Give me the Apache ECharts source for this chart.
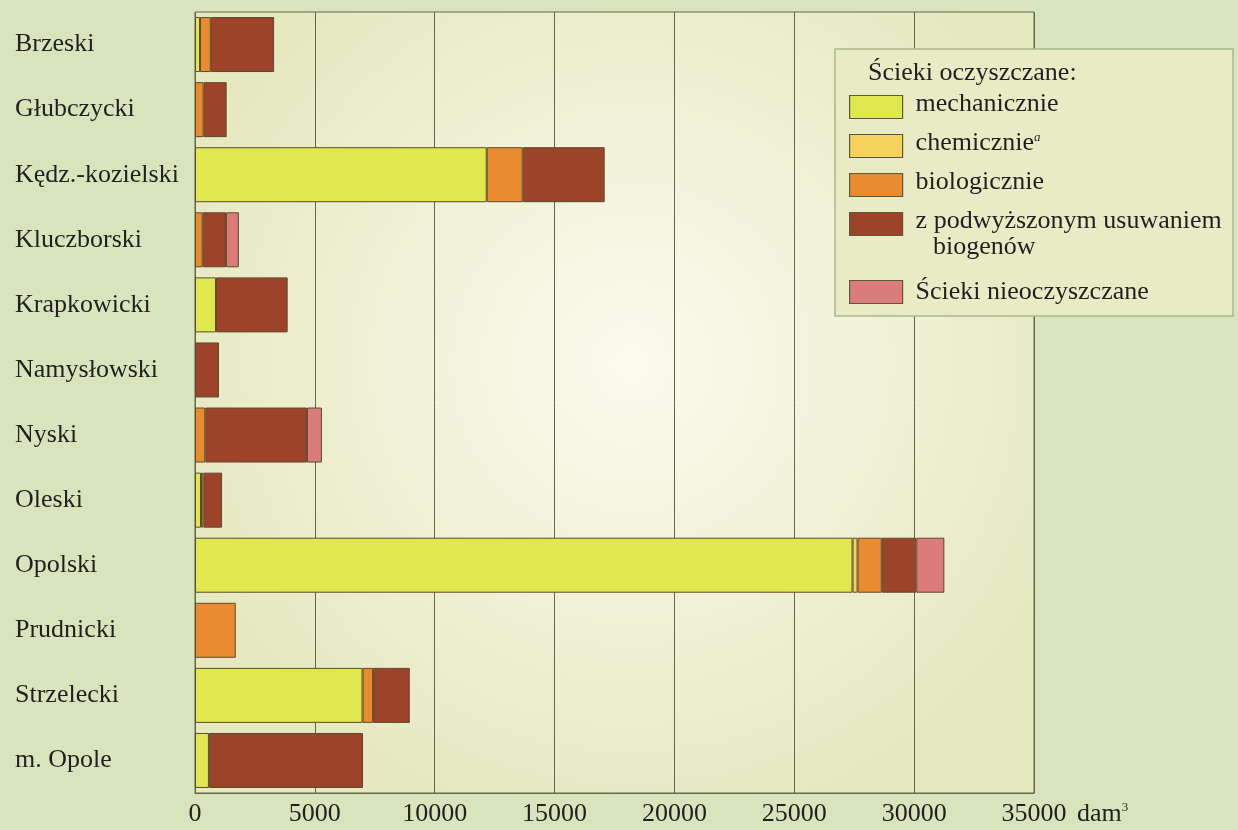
<!DOCTYPE html>
<html>
<head>
<meta charset="utf-8">
<script src="https://cdn.jsdelivr.net/npm/echarts@6/dist/echarts.min.js"></script>
<style>
html,body{margin:0;padding:0;background:#d8e4bc;}
#c{width:1238px;height:830px;}
</style>
</head>
<body>
<div id="c"></div>
<script>
// Categories (powiaty)
const categories = ['Brzeski','Głubczycki','Kędz.-kozielski','Kluczborski','Krapkowicki','Namysłowski','Nyski','Oleski','Opolski','Prudnicki','Strzelecki','m. Opole'];
// Series values, dam3 (null = none)
const mechaniczne  = [210, null, 12170, null, 875, null, null, 250, 27430, null, 6990, 580];
const chemiczne    = [null, null, null, null, null, null, null, null, 210, null, null, null];
const biologiczne  = [450, 360, 1500, 320, null, null, 430, 100, 1010, 1700, 440, null];
const biogeny      = [2640, 960, 3420, 970, 2990, 1000, 4240, 780, 1440, null, 1530, 6430];
const nieoczyszcz  = [null, null, null, 540, null, null, 625, null, 1170, null, null, null];
// Axis ticks
const xMin = 0, xMax = 35000, xStep = 5000;

const seriesNames = ['mechanicznie','chemicznie','biologicznie','z podwyższonym usuwaniem','Ścieki nieoczyszczane'];
const seriesData = [mechaniczne, chemiczne, biologiczne, biogeny, nieoczyszcz];
const colors = ['#dfe84e','#f4d25c','#eb8b2f','#9d432a','#db7b7b'];

const FONT = '"Liberation Serif", "Times New Roman", serif';
const TXT = '#231f20';
const LINE = '#65664a';

const chart = echarts.init(document.getElementById('c'), null, {renderer:'canvas'});
const option = {
  backgroundColor: '#d8e4bc',
  animation: false,
  grid: {
    left: 195, right: 204, top: 12, bottom: 37,
    show: true,
    borderColor: LINE, borderWidth: 1,
    backgroundColor: {
      type: 'radial', x: 0.52, y: 0.45, r: 0.62,
      colorStops: [{offset:0, color:'#fbfbef'},{offset:1, color:'#e6e8bf'}]
    }
  },
  xAxis: {
    type: 'value', min: xMin, max: xMax, interval: xStep,
    axisLine: {show: true, lineStyle: {color: LINE, width: 1}},
    axisTick: {show: false},
    splitLine: {show: true, lineStyle: {color: LINE, width: 1}},
    axisLabel: {fontFamily: FONT, fontSize: 26, color: TXT, margin: 8,
      formatter: function (v) { return String(v); }},
    name: 'dam{sup|3}',
    nameLocation: 'end',
    nameGap: 43,
    nameTextStyle: {
      fontFamily: FONT, fontSize: 26, color: TXT, verticalAlign: 'top', padding: [8,0,0,0],
      rich: {sup: {fontFamily: FONT, fontSize: 13, color: TXT, verticalAlign: 'top', padding: [0,0,12,0]}}
    }
  },
  yAxis: {
    type: 'category', data: categories, inverse: true,
    axisLine: {show: false}, axisTick: {show: false},
    axisLabel: {fontFamily: FONT, fontSize: 26, color: TXT, align: 'left', margin: 180}
  },
  legend: [
    {
      data: seriesNames.slice(0,4),
      orient: 'vertical', left: 849, top: 91, padding: 0,
      itemWidth: 53, itemHeight: 23, itemGap: 8,
      icon: 'rect', z: 6,
      itemStyle: {borderColor: '#5a5a3a', borderWidth: 1.2},
      formatter: function (n) { return n === 'chemicznie' ? 'chemicznie{sup|a}' : n; },
      textStyle: {
        fontFamily: FONT, fontSize: 26, color: TXT, lineHeight: 24, padding: [0,0,6,8],
        rich: {sup: {fontFamily: FONT, fontSize: 13, fontStyle: 'italic', color: TXT, verticalAlign: 'top', padding: [0,0,12,0]}}
      }
    },
    {
      data: seriesNames.slice(4),
      orient: 'vertical', left: 849, top: 277, padding: 0,
      itemWidth: 53, itemHeight: 23, itemGap: 8,
      icon: 'rect', z: 6,
      itemStyle: {borderColor: '#5a5a3a', borderWidth: 1.2},
      textStyle: {fontFamily: FONT, fontSize: 26, color: TXT, lineHeight: 24, padding: [0,0,6,8]}
    }
  ],
  graphic: [
    {type: 'rect', z: 3, shape: {x: 835, y: 49, width: 398, height: 267},
     style: {fill: '#e9ebc5', stroke: '#a9b98a', lineWidth: 1.5}},
    {type: 'text', z: 6, x: 868, y: 73,
     style: {text: 'Ścieki oczyszczane:', font: '26px ' + FONT, fill: TXT, verticalAlign: 'middle'}},
    {type: 'text', z: 6, x: 933, y: 247,
     style: {text: 'biogenów', font: '26px ' + FONT, fill: TXT, verticalAlign: 'middle'}}
  ],
  series: seriesNames.map(function (name, i) {
    return {
      name: name, type: 'bar', stack: 'total',
      barWidth: 55,
      data: seriesData[i],
      itemStyle: {color: colors[i], borderColor: '#5b4a2e', borderWidth: 1},
      emphasis: {disabled: true}
    };
  })
};
chart.setOption(option);
</script>
</body>
</html>
